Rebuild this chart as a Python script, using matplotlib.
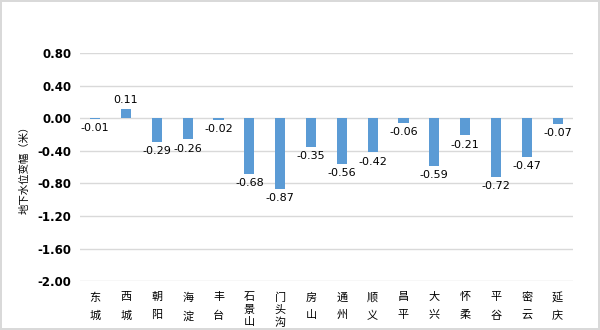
import numpy as np
import matplotlib.pyplot as plt

plt.rcParams['font.family'] = ['DejaVu Sans', 'Noto Sans CJK SC']

districts = ['东城', '西城', '朝阳', '海淀', '丰台', '石景山', '门头沟', '房山', '通州',
             '顺义', '昌平', '大兴', '怀柔', '平谷', '密云', '延庆']
change = [-0.01, 0.11, -0.29, -0.26, -0.02, -0.68, -0.87, -0.35, -0.56,
          -0.42, -0.06, -0.59, -0.21, -0.72, -0.47, -0.07]
yticks = [0.80, 0.40, 0.00, -0.40, -0.80, -1.20, -1.60, -2.00]

fig = plt.figure(figsize=(6, 3.3), dpi=100)
fig.patch.set_edgecolor('#D9D9D9')
fig.patch.set_linewidth(1.5)
ax = fig.add_axes([0.133, 0.148, 0.822, 0.691])

x = np.arange(len(districts))
ax.bar(x, change, width=0.33, color='#5B9BD5', zorder=3)

for xi, v in zip(x, change):
    if v >= 0:
        ax.annotate(f'{v:.2f}', (xi, v), xytext=(0, 3), textcoords='offset points',
                    ha='center', va='bottom', fontsize=8)
    else:
        ax.annotate(f'{v:.2f}', (xi, v), xytext=(0, -3), textcoords='offset points',
                    ha='center', va='top', fontsize=8)

ax.set_xlim(-0.5, len(districts) - 0.5)
ax.set_ylim(-2.0, 0.8)
ax.set_yticks(yticks)
ax.set_yticklabels([f'{t:.2f}' for t in yticks], fontweight='bold', fontsize=8.5)
ax.yaxis.grid(True, color='#D9D9D9', linewidth=1, zorder=0)
ax.tick_params(length=0)
ax.tick_params(axis='y', pad=6)
for s in ax.spines.values():
    s.set_visible(False)

# category labels: stacked vertically, two-char names spread out more
ax.set_xticks(x)
ax.set_xticklabels([])
for xi, d in zip(x, districts):
    ax.annotate('\n'.join(d), (xi, 0), xycoords=('data', 'axes fraction'),
                xytext=(0, -8), textcoords='offset points', ha='center', va='top',
                fontsize=8, family=['Noto Sans CJK SC', 'DejaVu Sans'],
                linespacing=1.95 if len(d) == 2 else 1.3)

ax.set_ylabel('地下水位变幅（米）', fontsize=7.5, family=['Noto Sans CJK SC', 'DejaVu Sans'],
              labelpad=6)

fig.savefig('out.png', dpi=100)
